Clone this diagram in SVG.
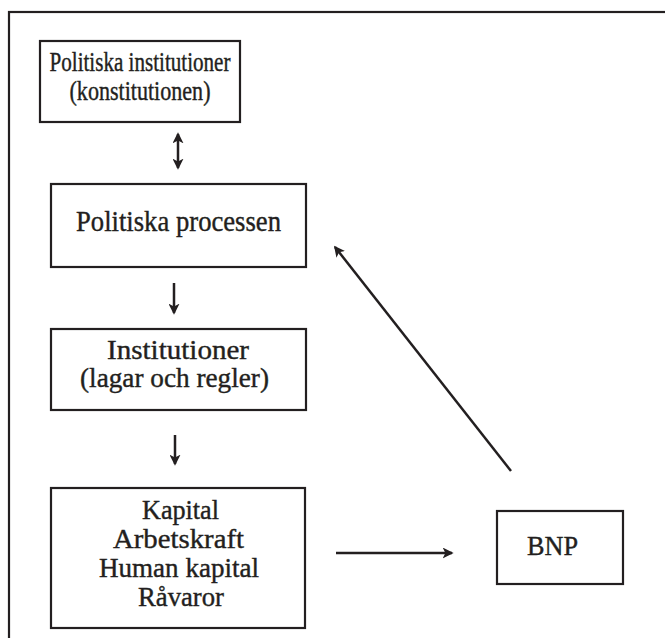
<svg xmlns="http://www.w3.org/2000/svg" width="665" height="638" viewBox="0 0 665 638">
<style>
.box{fill:#fff;stroke:#231f20;stroke-width:2.2}
.frame{fill:none;stroke:#231f20;stroke-width:2.2}
.t{font-family:"Liberation Serif","Times New Roman",serif;font-size:28px;fill:#231f20;stroke:#231f20;stroke-width:0.4;text-anchor:middle}
.c{stroke:#231f20;stroke-width:2.5;fill:none}
</style>
<defs>
<marker id="ah" viewBox="0 0 10 10" refX="8.5" refY="5" markerWidth="11" markerHeight="11" markerUnits="userSpaceOnUse" orient="auto-start-reverse">
<path d="M0,0 L10,5 L0,10 L2.5,5 z" fill="#231f20"/>
</marker>
</defs>
<rect class="frame" x="9" y="12" width="700" height="700"/>
<g id="n1">
<rect class="box" x="40" y="41" width="200" height="81"/>
<text class="t" x="140" y="71" style="font-size:27px" textLength="181" lengthAdjust="spacingAndGlyphs">Politiska institutioner</text>
<text class="t" x="140" y="100" style="font-size:27px" textLength="141" lengthAdjust="spacingAndGlyphs">(konstitutionen)</text>
</g>
<g id="n2">
<rect class="box" x="51" y="184" width="255" height="83"/>
<text class="t" x="178.5" y="231" style="font-size:30px" textLength="205" lengthAdjust="spacingAndGlyphs">Politiska processen</text>
</g>
<g id="n3">
<rect class="box" x="51" y="329" width="255" height="81"/>
<text class="t" x="178" y="359" textLength="142" lengthAdjust="spacingAndGlyphs">Institutioner</text>
<text class="t" x="174.5" y="387" textLength="189" lengthAdjust="spacingAndGlyphs">(lagar och regler)</text>
</g>
<g id="n4">
<rect class="box" x="51" y="488" width="254" height="140"/>
<text class="t" x="180.5" y="519" textLength="77" lengthAdjust="spacingAndGlyphs">Kapital</text>
<text class="t" x="178.5" y="548" textLength="131" lengthAdjust="spacingAndGlyphs">Arbetskraft</text>
<text class="t" x="179" y="577" textLength="160" lengthAdjust="spacingAndGlyphs">Human kapital</text>
<text class="t" x="181" y="606" textLength="86" lengthAdjust="spacingAndGlyphs">Råvaror</text>
</g>
<g id="bnp">
<rect class="box" x="497" y="511" width="126" height="73"/>
<text class="t" x="552.5" y="555" textLength="51" lengthAdjust="spacingAndGlyphs">BNP</text>
</g>
<g id="connectors">
<line class="c" x1="178" y1="134" x2="178" y2="168" marker-start="url(#ah)" marker-end="url(#ah)"/>
<line class="c" x1="174" y1="283" x2="174" y2="313" marker-end="url(#ah)"/>
<line class="c" x1="175" y1="435" x2="175" y2="464" marker-end="url(#ah)"/>
<line class="c" x1="336" y1="553" x2="452" y2="553" marker-end="url(#ah)"/>
<line class="c" x1="511" y1="471" x2="335" y2="247" marker-end="url(#ah)"/>
</g>
</svg>
